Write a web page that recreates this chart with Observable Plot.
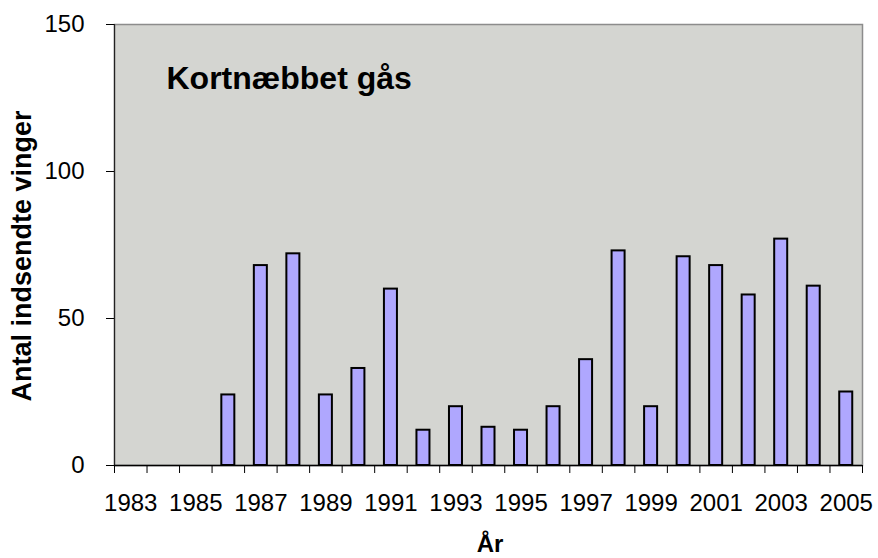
<!DOCTYPE html>
<html>
<head>
<meta charset="utf-8">
<script src="https://cdn.jsdelivr.net/npm/d3@7"></script>
<script src="https://cdn.jsdelivr.net/npm/@observablehq/plot@0.6"></script>
<style>
  html, body { margin: 0; padding: 0; background: #ffffff; }
</style>
</head>
<body>
<div id="chart"></div>
<script>
// Data
const years = d3.range(1983, 2006);
const values = [null, null, null, 24, 68, 72, 24, 33, 60, 12, 20, 13, 12, 20, 36, 73, 20, 71, 68, 58, 77, 61, 25];
const yTicks = [0, 50, 100, 150];
const xTickLabels = [1983, 1985, 1987, 1989, 1991, 1993, 1995, 1997, 1999, 2001, 2003, 2005];
const title = "Kortnæbbet gås";
const xLabel = "År";
const yLabel = "Antal indsendte vinger";

const data = years.map((year, i) => ({year, value: values[i]})).filter(d => d.value != null);
const boundaries = d3.range(years[0] - 0.5, years[years.length - 1] + 1, 1);

const fontFamily = "'Liberation Sans', Arial, Helvetica, sans-serif";

const chart = Plot.plot({
  width: 878,
  height: 558,
  marginLeft: 114,
  marginRight: 16,
  marginTop: 24,
  marginBottom: 93,
  style: {fontFamily, fontSize: "24px", color: "#000", background: "#fff"},
  x: {domain: [years[0] - 0.5, years[years.length - 1] + 0.5]},
  y: {domain: [0, 150]},
  marks: [
    Plot.frame({fill: "#d4d5d1", stroke: "#8c8c8c", strokeWidth: 1.5}),
    Plot.rectY(data, {
      x1: d => d.year - 0.2,
      x2: d => d.year + 0.2,
      y: "value",
      fill: "#afa7fe",
      stroke: "#000",
      strokeWidth: 2
    }),
    Plot.text([title], {
      frameAnchor: "top-left",
      textAnchor: "start",
      lineAnchor: "top",
      dx: 52,
      dy: 42,
      fontSize: 32,
      fontWeight: "bold",
      fill: "#000"
    }),
    Plot.axisY(yTicks, {
      anchor: "left",
      tickSize: 8,
      tickPadding: 22,
      fontSize: 24,
      label: null,
      stroke: "#000"
    }),
    Plot.axisX(boundaries, {
      anchor: "bottom",
      tickSize: 8,
      tickFormat: () => "",
      label: null,
      stroke: "#000"
    }),
    Plot.axisX(xTickLabels, {
      anchor: "bottom",
      tickSize: 0,
      tickPadding: 28,
      tickFormat: d => String(d),
      fontSize: 24,
      label: null
    }),
    Plot.ruleX([years[0] - 0.5], {stroke: "#222", strokeWidth: 1.2}),
    Plot.ruleY([0], {stroke: "#000", strokeWidth: 1.5})
  ]
});

const svg = d3.select(chart);
svg.append("text")
  .attr("x", 490)
  .attr("y", 552)
  .attr("text-anchor", "middle")
  .attr("font-family", fontFamily)
  .attr("font-size", 24)
  .attr("font-weight", "bold")
  .attr("fill", "#000")
  .text(xLabel);
svg.append("text")
  .attr("transform", "translate(31,256) rotate(-90)")
  .attr("text-anchor", "middle")
  .attr("font-family", fontFamily)
  .attr("font-size", 27)
  .attr("font-weight", "bold")
  .attr("fill", "#000")
  .text(yLabel);

document.getElementById("chart").appendChild(chart);
</script>
</body>
</html>
